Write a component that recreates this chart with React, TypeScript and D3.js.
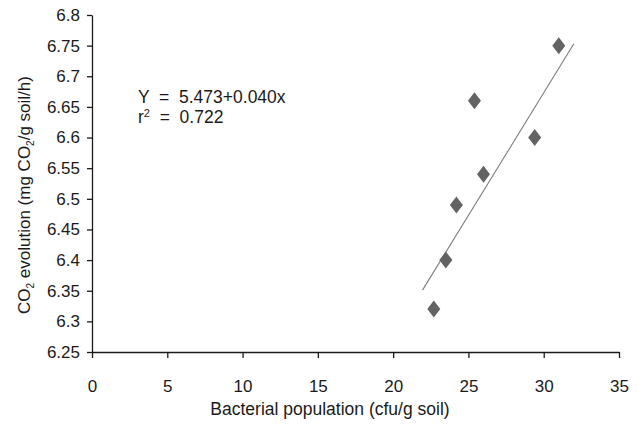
import React, { useEffect, useRef } from 'react';
import * as d3 from 'd3';

// bacterial population (cfu/g soil) vs CO2 evolution (mg CO2/g soil/h)
const bacteria = [22.7, 23.5, 24.2, 25.4, 26.0, 29.4, 31.0];
const co2 = [6.32, 6.40, 6.49, 6.66, 6.54, 6.60, 6.75];

// regression shown on the chart
const intercept = 5.473;
const slope = 0.040;
const fitRange = [21.95, 32.0];

const xTicks = [0, 5, 10, 15, 20, 25, 30, 35];
const yTicks = [6.25, 6.3, 6.35, 6.4, 6.45, 6.5, 6.55, 6.6, 6.65, 6.7, 6.75, 6.8];

const W = 637;
const H = 424;
const margin = { top: 15, right: 18, bottom: 72, left: 92 };
const font = "'Liberation Sans Narrow', 'Liberation Sans', Arial, sans-serif";

export default function App() {
  const ref = useRef<SVGSVGElement>(null);

  useEffect(() => {
    const svg = d3.select(ref.current);
    svg.selectAll('*').remove();

    const x = d3.scaleLinear().domain([0, 35]).range([margin.left, W - margin.right]);
    const y = d3.scaleLinear().domain([6.25, 6.8]).range([H - margin.bottom, margin.top]);

    // axes
    const xAxis = d3.axisBottom(x).tickValues(xTicks).tickSizeInner(6).tickSizeOuter(0).tickPadding(22);
    const yAxis = d3.axisLeft(y).tickValues(yTicks).tickSizeInner(5).tickSizeOuter(0).tickPadding(7)
      .tickFormat((d) => String(d));

    const gx = svg.append('g').attr('transform', `translate(0,${H - margin.bottom})`).call(xAxis);
    const gy = svg.append('g').attr('transform', `translate(${margin.left},0)`).call(yAxis);
    [gx, gy].forEach((g) => {
      g.selectAll('path, line').attr('stroke', '#1a1a1a').attr('stroke-width', 1.3);
      g.selectAll('text').attr('fill', '#1a1a1a').style('font-family', font).style('font-size', '17px');
    });

    // regression line
    const line = d3.line<number>().x((d) => x(d)).y((d) => y(intercept + slope * d));
    svg.append('path')
      .datum(fitRange)
      .attr('d', line)
      .attr('fill', 'none')
      .attr('stroke', '#7a7a7a')
      .attr('stroke-width', 1.1);

    // diamonds
    svg.append('g')
      .selectAll('path')
      .data(bacteria)
      .join('path')
      .attr('transform', (d, i) => `translate(${x(d)},${y(co2[i])})`)
      .attr('d', 'M0,-8.5L6.5,0L0,8.5L-6.5,0Z')
      .attr('fill', '#636363');

    // equation
    const eq = svg.append('g').style('font-family', font).style('font-size', '17.5px').attr('fill', '#1a1a1a');
    eq.append('text').attr('x', 138).attr('y', 103).attr('xml:space', 'preserve').text('Y  =  5.473+0.040x');
    const r2 = eq.append('text').attr('x', 138).attr('y', 123).attr('xml:space', 'preserve');
    r2.append('tspan').text('r');
    r2.append('tspan').attr('dy', -6).style('font-size', '11px').text('2');
    r2.append('tspan').attr('dy', 6).text('  =  0.722');

    // axis titles
    svg.append('text')
      .attr('x', 330)
      .attr('y', 415)
      .attr('text-anchor', 'middle')
      .style('font-family', font)
      .style('font-size', '17.5px')
      .attr('fill', '#1a1a1a')
      .text('Bacterial population (cfu/g soil)');

    const yt = svg.append('text')
      .attr('transform', 'translate(30,195) rotate(-90)')
      .attr('text-anchor', 'middle')
      .style('font-family', font)
      .style('font-size', '17px')
      .attr('fill', '#1a1a1a');
    yt.append('tspan').text('CO');
    yt.append('tspan').attr('dy', 4).style('font-size', '10px').text('2');
    yt.append('tspan').attr('dy', -4).text(' evolution (mg CO');
    yt.append('tspan').attr('dy', 4).style('font-size', '10px').text('2');
    yt.append('tspan').attr('dy', -4).text('/g soil/h)');
  }, []);

  return (
    <svg
      ref={ref}
      width={W}
      height={H}
      style={{ position: 'absolute', left: 0, top: 0, background: '#fff' }}
    />
  );
}
